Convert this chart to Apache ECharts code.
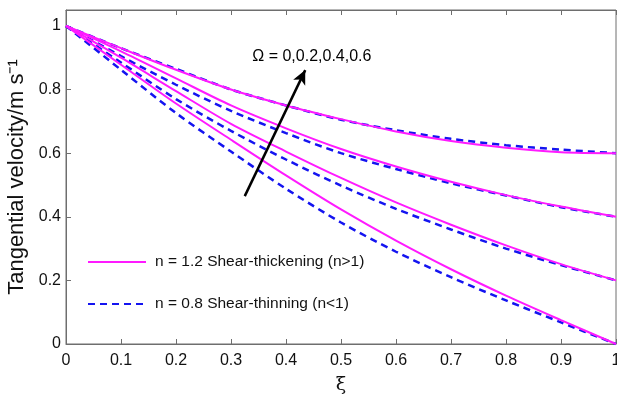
<!DOCTYPE html>
<html>
<head>
<meta charset="utf-8">
<script src="https://cdn.jsdelivr.net/npm/echarts@6/dist/echarts.min.js"></script>
<style>
  html, body { margin: 0; padding: 0; background: #fff; }
  #chart { width: 617px; height: 398px; }
</style>
</head>
<body>
<div id="chart"></div>
<script>
// Dimensionless radial coordinate
const xi = [0, 0.1, 0.2, 0.3, 0.4, 0.5, 0.6, 0.7, 0.8, 0.9, 1.0];

// Tangential velocity, n = 1.2 (shear-thickening), one curve per Omega
const thick_O0  = [1, 0.878, 0.756, 0.642, 0.530, 0.423, 0.325, 0.235, 0.152, 0.075, 0.0];
const thick_O02 = [1, 0.900, 0.795, 0.692, 0.605, 0.522, 0.445, 0.375, 0.310, 0.251, 0.2];
const thick_O04 = [1, 0.920, 0.835, 0.750, 0.678, 0.613, 0.558, 0.510, 0.468, 0.432, 0.4];
const thick_O06 = [1, 0.930, 0.862, 0.800, 0.750, 0.707, 0.668, 0.638, 0.617, 0.603, 0.6];

// Tangential velocity, n = 0.8 (shear-thinning), one curve per Omega
const thin_O0  = [1, 0.862, 0.726, 0.605, 0.488, 0.382, 0.290, 0.210, 0.137, 0.068, 0.0];
const thin_O02 = [1, 0.885, 0.770, 0.670, 0.580, 0.498, 0.425, 0.360, 0.300, 0.248, 0.2];
const thin_O04 = [1, 0.905, 0.815, 0.733, 0.663, 0.600, 0.550, 0.505, 0.467, 0.430, 0.4];
const thin_O06 = [1, 0.930, 0.865, 0.800, 0.750, 0.705, 0.672, 0.645, 0.625, 0.611, 0.6];

const thickName = 'n = 1.2 Shear-thickening (n>1)';
const thinName  = 'n = 0.8 Shear-thinning (n<1)';
const yTitle = 'Tangential velocity/m s⁻¹';

// Annotation: arrow in the direction of increasing Omega, and its caption
const arrowFrom = [0.325, 0.465];
const arrowTo   = [0.435, 0.861];
const captionAt = [0.447, 0.905];
const captionText = 'Ω = 0,0.2,0.4,0.6';

const FONT = '"Liberation Sans", Arial, Helvetica, sans-serif';
const AXIS_GREY = '#6e6e6e';
const GRID = { left: 66, right: 1, top: 10, bottom: 54 };
const W = 617, H = 398;

function pairs(ys) { return xi.map((x, i) => [x, ys[i]]); }

function thickSeries(ys) {
  return {
    name: thickName, type: 'line', data: pairs(ys), smooth: 0.3,
    symbol: 'none', z: 3,
    lineStyle: { color: '#ff1aff', width: 2 },
    itemStyle: { color: '#ff1aff' }
  };
}
function thinSeries(ys) {
  return {
    name: thinName, type: 'line', data: pairs(ys), smooth: 0.3,
    symbol: 'none', z: 2,
    lineStyle: { color: '#1414f0', width: 2.5, type: [7, 5] },
    itemStyle: { color: '#1414f0' }
  };
}

const series = [
  thinSeries(thin_O0), thinSeries(thin_O02), thinSeries(thin_O04), thinSeries(thin_O06),
  thickSeries(thick_O0), thickSeries(thick_O02), thickSeries(thick_O04), thickSeries(thick_O06)
];

// The arrow and the Omega caption ride on the last series
series[series.length - 1].markLine = {
  silent: true,
  symbol: ['none', 'arrow'],
  symbolSize: [10, 14],
  label: { show: false },
  lineStyle: { color: '#000', width: 2.5, type: 'solid' },
  data: [[{ coord: arrowFrom }, { coord: arrowTo }]],
  animation: false
};
series[series.length - 1].markPoint = {
  silent: true,
  symbol: 'circle', symbolSize: 0,
  data: [{ coord: captionAt }],
  label: {
    show: true, position: 'inside', formatter: captionText,
    color: '#000', fontSize: 16, fontFamily: FONT
  },
  animation: false
};

const chart = echarts.init(document.getElementById('chart'), null, { renderer: 'canvas' });
chart.setOption({
  animation: false,
  backgroundColor: '#fff',
  grid: Object.assign({
    outerBoundsMode: 'none', containLabel: false,
    show: true, borderColor: AXIS_GREY, borderWidth: 1
  }, GRID),
  // Vertical axis title, centred on the plot height
  graphic: [{
    type: 'text', silent: true,
    x: 17, y: GRID.top + (H - GRID.top - GRID.bottom) / 2,
    rotation: Math.PI / 2,
    style: {
      text: yTitle, fill: '#111', fontSize: 22, fontFamily: FONT,
      align: 'center', verticalAlign: 'middle'
    }
  }],
  legend: {
    data: [thickName, thinName],
    orient: 'vertical',
    left: 82, top: 249,
    itemWidth: 58, itemHeight: 14, itemGap: 26,
    itemStyle: { opacity: 0 },
    textStyle: { color: '#111', fontSize: 15.5, fontFamily: FONT, padding: [0, 0, 0, 4] },
    selectedMode: false
  },
  xAxis: [{
    type: 'value', min: 0, max: 1, interval: 0.1, position: 'bottom',
    name: 'ξ', nameLocation: 'middle', nameGap: 32,
    nameTextStyle: { color: '#111', fontSize: 19, fontFamily: '"DejaVu Serif", serif' },
    axisLine: { show: true, lineStyle: { color: AXIS_GREY } },
    axisTick: { show: true, inside: true, length: 5, lineStyle: { color: AXIS_GREY } },
    axisLabel: { color: '#111', fontSize: 16, fontFamily: FONT, margin: 9,
      formatter: v => String(Math.round(v * 10) / 10) },
    splitLine: { show: false }
  }, {
    type: 'value', min: 0, max: 1, interval: 0.1, position: 'top',
    axisLine: { show: true, lineStyle: { color: AXIS_GREY } },
    axisTick: { show: true, inside: true, length: 5, lineStyle: { color: AXIS_GREY } },
    axisLabel: { show: false },
    splitLine: { show: false }
  }],
  yAxis: {
    type: 'value', min: 0, max: 1.05, interval: 0.2,
    axisLine: { show: true, lineStyle: { color: AXIS_GREY } },
    axisTick: { show: true, inside: true, length: 5, lineStyle: { color: AXIS_GREY } },
    axisLabel: { color: '#111', fontSize: 16, fontFamily: FONT, margin: 5, showMaxLabel: false,
      formatter: v => (Math.abs(v * 5 - Math.round(v * 5)) < 1e-6) ? String(Math.round(v * 10) / 10) : '' },
    splitLine: { show: false }
  },
  series: series
});
</script>
</body>
</html>
